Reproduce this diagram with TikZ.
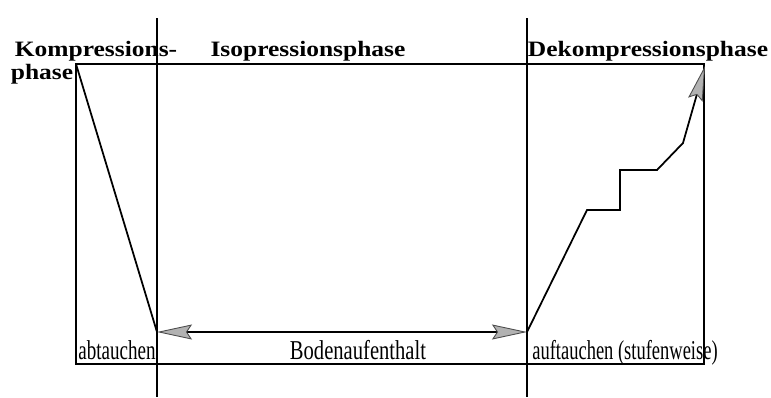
\documentclass[tikz,border=0pt]{standalone}
\usepackage{fontspec}
\setmainfont{Liberation Serif}
\usetikzlibrary{arrows.meta}

\begin{document}
\begin{tikzpicture}[
x=0.02cm, y=-0.02cm,
phasetext/.style={font=\fontsize{12.5}{13}\selectfont\bfseries, xscale=1.16, inner sep=0pt, anchor=base},
divetext/.style={font=\fontsize{15.5}{16}\selectfont, xscale=0.7, inner sep=0pt, anchor=base},
frame/.style={draw=black, line width=0.8pt},
divider/.style={draw=black, line width=0.8pt},
profile/.style={draw=black, line width=1pt},
grayhead/.tip={Stealth[length=7mm, width=3mm, inset=1mm, color=gray!60!black, fill=gray!60, line width=0.5pt]},
timearrow/.style={grayhead-grayhead, draw=black, line width=0.8pt},
riseline/.style={-grayhead, draw=black, line width=1pt}
]
\useasboundingbox (0,0) rectangle (771,397);

% frame and phase borders
\coordinate (tl) at (76,64);
\coordinate (br) at (704,364);
\coordinate (lowleft) at (157,332);
\coordinate (lowright) at (527,332);
\draw[frame] (tl) rectangle (br);
\draw[divider] (157,18) -- (157,397);
\draw[divider] (527,18) -- (527,397);

% phase names
\node[phasetext] (komp) at (96,56) {Kompressions-};
\node[phasetext] (kompb) at (42,79) {phase};
\node[phasetext] (iso) at (308,56) {Isopressionsphase};
\node[phasetext] (dekomp) at (648,56) {Dekompressionsphase};

% dive profile
\coordinate (stepa) at (587,210);
\coordinate (stepb) at (620,210);
\coordinate (stepc) at (620,170);
\coordinate (stepd) at (657,170);
\coordinate (stepe) at (683,143);
\coordinate (surface) at (705,66);
\draw[profile] (tl) -- (lowleft);
\draw[timearrow] (lowleft) -- (lowright);
\draw[riseline] (lowright) -- (stepa) -- (stepb) -- (stepc) -- (stepd) -- (stepe) -- (surface);

% stages
\node[divetext] (ab) at (117,359) {abtauchen};
\node[divetext, xscale=1.08] (boden) at (358,359) {Bodenaufenthalt};
\node[divetext, xscale=0.97] (auf) at (625,359) {auftauchen (stufenweise)};
\end{tikzpicture}
\end{document}
